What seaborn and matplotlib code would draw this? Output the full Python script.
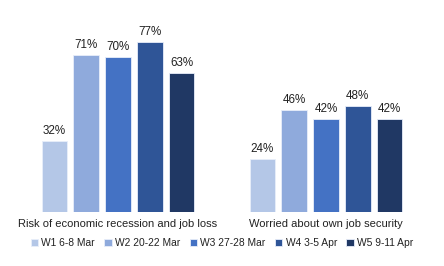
import matplotlib
matplotlib.use("Agg")
import matplotlib.pyplot as plt
import seaborn as sns
import pandas as pd

categories = ["Risk of economic recession and job loss", "Worried about own job security"]
waves = ["W1 6-8 Mar", "W2 20-22 Mar", "W3 27-28 Mar", "W4 3-5 Apr", "W5 9-11 Apr"]
risk_values = [32, 71, 70, 77, 63]
worried_values = [24, 46, 42, 48, 42]
colors = ["#b4c7e7", "#8faadc", "#4472c4", "#2f5597", "#203864"]

rows = []
for w, v in zip(waves, risk_values):
    rows.append({"cat": categories[0], "wave": w, "val": v})
for w, v in zip(waves, worried_values):
    rows.append({"cat": categories[1], "wave": w, "val": v})
df = pd.DataFrame(rows)

sns.set_theme(style="white")
plt.rcParams["font.family"] = ["Liberation Sans", "DejaVu Sans"]

fig = plt.figure(figsize=(4.44, 2.66), dpi=100)
H = 266
px_per = 2.21
ymax = 90
bottom = (H - 212) / H
height = ymax * px_per / H
ax = fig.add_axes([0, bottom, 1, height])

sns.barplot(data=df, x="cat", y="val", hue="wave", order=categories, hue_order=waves,
            palette=colors, saturation=1, width=0.765, gap=0.2, ax=ax, legend=True,
            edgecolor="#e8eefa", linewidth=0.6)

for cont in ax.containers:
    ax.bar_label(cont, labels=[f"{int(v)}%" for v in cont.datavalues], padding=3,
                 fontsize=8.4, color="#222222")

ax.set_xlim(-118 / 208, (444 - 118) / 208)
ax.set_ylim(0, ymax)
ax.set_xlabel("")
ax.set_ylabel("")
ax.set_yticks([])
ax.tick_params(axis="x", length=0, pad=5, labelsize=8.0, labelcolor="#222222")
for s in ax.spines.values():
    s.set_visible(False)

handles, labels = ax.get_legend_handles_labels()
ax.legend_.remove()
fig.legend(handles, labels, loc="center", bbox_to_anchor=(0.5, 1 - 243 / H), ncol=5,
           frameon=False, fontsize=7.4, handlelength=0.7, handleheight=0.7,
           handletextpad=0.35, columnspacing=0.9, labelcolor="#222222")

fig.savefig("out.png", dpi=100)
